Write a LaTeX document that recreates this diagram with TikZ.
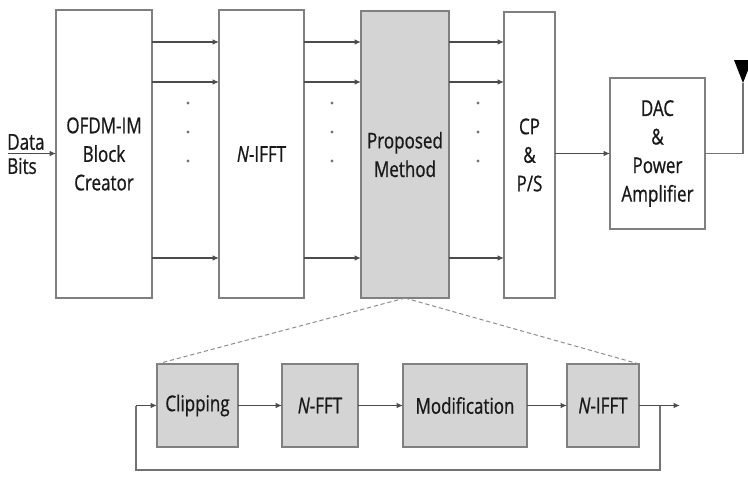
\documentclass[tikz,border=0pt]{standalone}
\usepackage{fontspec}
\setmainfont[FakeStretch=0.78, FakeBold=0.8]{Open Sans}
\usetikzlibrary{positioning}
\usetikzlibrary{arrows.meta}

\tikzset{
  blk/.style={draw=black!50, line width=0.9pt, inner sep=0pt, outer sep=0pt,
    align=center, text=black!90, font=\fontsize{15.5}{20.3}\selectfont},
  sub/.style={blk, fill=black!17, minimum height=2.075cm,
    font=\fontsize{15.5}{18}\selectfont},
  arr/.style={draw=black!70, line width=0.9pt, -{Latex[length=1.6mm,width=1.4mm]}},
  wire/.style={draw=black!55, line width=0.9pt},
  zoomline/.style={draw=black!45, densely dashed, line width=0.7pt},
  lbl/.style={anchor=west, inner sep=0pt, text=black!90, font=\fontsize{15.5}{16}\selectfont}
}

\begin{document}
\begin{tikzpicture}[x=0.025cm, y=-0.025cm]
        \useasboundingbox (0,0) rectangle (748,482);

        % transmitter chain
        \node[blk, minimum width=2.4cm, minimum height=7.2cm] (ofdm) at (104,154) {OFDM-IM\\Block\\Creator};
        \node[blk, minimum width=2.125cm, minimum height=7.2cm] (ifft) at (261.5,154) {\textit{N}-IFFT};
        \node[blk, fill=black!17, minimum width=2.2cm, minimum height=7.175cm] (prop) at (405,154.5) {Proposed\\Method};
        \node[blk, minimum width=1.275cm, minimum height=7.15cm] (cp) at (529.5,155) {CP\\\&\\P/S};
        \node[blk, minimum width=2.375cm, minimum height=3.775cm] (dac) at (657.5,153.5) {DAC\\\&\\Power\\Amplifier};

        % input
        \coordinate (in) at (8,153.5);
        \node[lbl] (data) at (7,142) {Data};
        \node[lbl] (bits) at (7,166) {Bits};
        \draw[arr] (in) -- (ofdm.west |- in);

        % parallel lines between blocks
        \foreach \y in {42,82,258} {
            \draw[arr] (ofdm.east |- 0,\y) -- (ifft.west |- 0,\y);
            \draw[arr] (ifft.east |- 0,\y) -- (prop.west |- 0,\y);
            \draw[arr] (prop.east |- 0,\y) -- (cp.west |- 0,\y);
        }
        \foreach \x in {188,332,478}
            \foreach \y in {103,132,161}
                \fill[black!55] (\x,\y) circle (1.2pt);

        \draw[arr] (cp.east |- dac.west) -- (dac.west);

        % antenna
        \coordinate (ant) at (743,83);
        \draw[wire] (dac.east) -| (ant);
        \fill[black] (ant) -- (734,60) -- (752,60) -- cycle;

        % inside the proposed method
        \node[sub, minimum width=2.025cm] (clip) at (197.5,405.5) {Clipping};
        \node[sub, minimum width=1.9cm] (fft) at (320,405.5) {\textit{N}-FFT};
        \node[sub, minimum width=3.1cm] (modif) at (465,405.5) {Modification};
        \node[sub, minimum width=1.8cm] (ifftb) at (603,405.5) {\textit{N}-IFFT};

        \draw[zoomline] (prop.south) -- (clip.north west);
        \draw[zoomline] (prop.south) -- (ifftb.north east);

        \draw[arr] (clip) -- (fft);
        \draw[arr] (fft) -- (modif);
        \draw[arr] (modif) -- (ifftb);

        % output and feedback loop
        \coordinate (out) at (680,405.5);
        \coordinate (tap) at (660,405.5);
        \coordinate (back) at (136,405.5);
        \draw[arr] (ifftb) -- (out);
        \draw[wire] (tap) -- ++(0,64.5) -| (back);
        \draw[arr] (back) -- (clip.west);
\end{tikzpicture}
\end{document}
